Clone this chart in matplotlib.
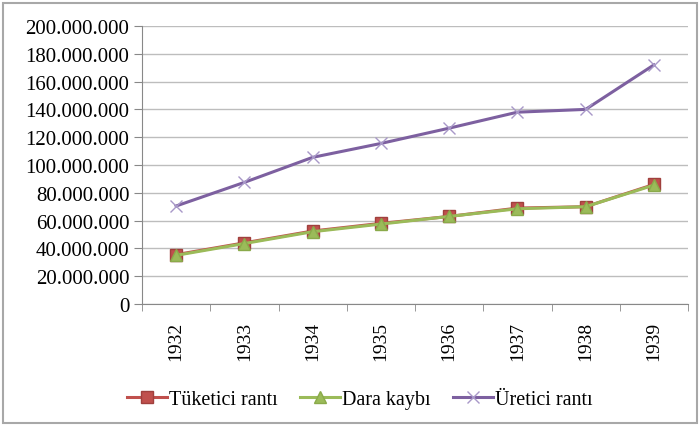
import matplotlib
matplotlib.use("Agg")
import matplotlib.pyplot as plt
from matplotlib.patches import Rectangle
from matplotlib.ticker import FuncFormatter, MultipleLocator
import numpy as np

years = ["1932", "1933", "1934", "1935", "1936", "1937", "1938", "1939"]
tuketici = [35.5e6, 44e6, 52.5e6, 58e6, 63e6, 69e6, 70e6, 86e6]
dara = [35e6, 43.5e6, 52e6, 57.5e6, 63e6, 68.5e6, 70e6, 85.5e6]
uretici = [70.5e6, 87.5e6, 105.5e6, 115.5e6, 126.5e6, 138e6, 140e6, 172e6]

plt.rcParams['font.family'] = ['Liberation Serif', 'DejaVu Serif']

fig = plt.figure(figsize=(7.0, 4.27), dpi=100)
ax = fig.add_axes([142/700, 1 - 305/427, (688-142)/700, (305-27)/427])

x = np.arange(len(years))
ax.plot(x, tuketici, color='#C0504D', lw=2.2, marker='s', ms=9,
        mfc='#C0504D', mec='#A0403D', label='Tüketici rantı', zorder=3)
ax.plot(x, dara, color='#9BBB59', lw=2.2, marker='^', ms=8,
        mfc='#9BBB59', mec='#8AAA4A', label='Dara kaybı', zorder=4)
ax.plot(x, uretici, color='#7D60A0', lw=2.2, marker='x', ms=9, mew=1.0,
        mec='#A898C8', label='Üretici rantı', zorder=5)

ax.set_xlim(-0.5, len(years) - 0.5)
ax.set_ylim(0, 200e6)
ax.yaxis.set_major_locator(MultipleLocator(20e6))
ax.yaxis.set_major_formatter(FuncFormatter(lambda v, p: f"{int(round(v)):,}".replace(",", ".")))
ax.grid(axis='y', color='#BDBDBD', lw=1.0)
ax.set_axisbelow(True)

ax.set_xticks(x)
ax.set_xticklabels(years, rotation=90, fontsize=14)
ax.set_xticks(np.arange(-0.5, len(years)), minor=True)
ax.tick_params(axis='x', which='major', length=0, pad=12)
ax.tick_params(axis='x', which='minor', length=5, color='#888888', direction='out')
ax.tick_params(axis='y', length=6, color='#888888', labelsize=15, pad=3)

for s in ['top', 'right']:
    ax.spines[s].set_visible(False)
ax.spines['left'].set_color('#888888')
ax.spines['bottom'].set_color('#888888')

fig.legend(loc='center', bbox_to_anchor=(360/700, 1 - 400/427), ncol=3, frameon=False,
           fontsize=14.5, handlelength=2.0, columnspacing=1.1, handletextpad=0.1)

fig.patches.append(Rectangle((3/700, 3/427), 694/700, 420/427, transform=fig.transFigure,
                             fill=False, edgecolor='#A8A8A8', lw=1.5))

fig.savefig('out.png', dpi=100)
